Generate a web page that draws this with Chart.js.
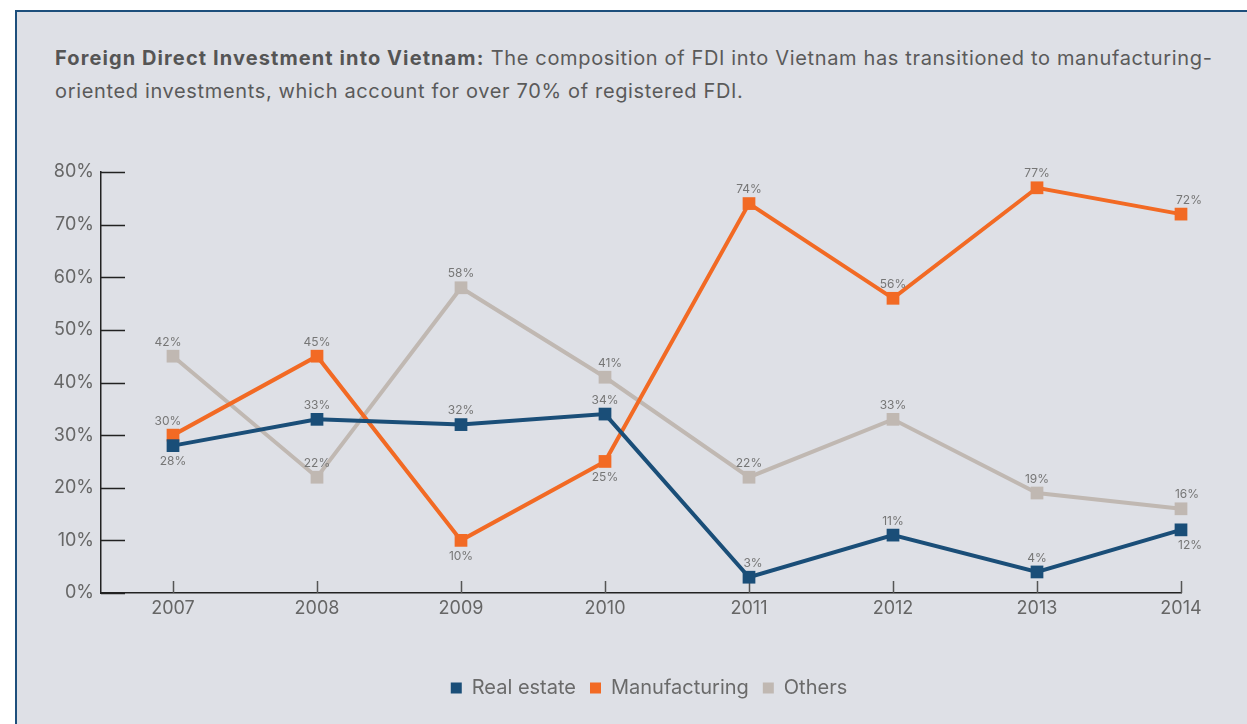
<!DOCTYPE html>
<html>
<head>
<meta charset="utf-8">
<script src="https://cdn.jsdelivr.net/npm/chart.js@4.4.1/dist/chart.umd.min.js"></script>
<style>
  html, body { margin: 0; padding: 0; width: 1247px; height: 724px; overflow: hidden; background: #fff; position: relative; }
  #panel { position: absolute; left: 15px; top: 10px; width: 1240px; height: 720px; background: #dee0e6;
           border-top: 2px solid #1d4f7c; border-left: 2px solid #1d4f7c; }
  #title { position: absolute; left: 55px; top: 42px; font: 20px Inter, sans-serif; color: #5a5a5a; line-height: 33px;
           letter-spacing: 0.65px; white-space: nowrap; }
  #title b { color: #555; font-weight: 700; letter-spacing: 1.1px; }
  #wrap { position: absolute; left: 17px; top: 130px; width: 1264px; height: 594px; }
</style>
</head>
<body>
<div id="panel"></div>
<div id="title"><b>Foreign Direct Investment into Vietnam:</b> The composition of FDI into Vietnam has transitioned to manufacturing-<br>oriented investments, which account for over 70% of registered FDI.</div>
<div id="wrap"><canvas id="fdiChart" width="1264" height="594"></canvas></div>
<script>
// datos
const years = [2007, 2008, 2009, 2010, 2011, 2012, 2013, 2014];
const realEstate = [28, 33, 32, 34, 3, 11, 4, 12];
const manufacturing = [30, 45, 10, 25, 74, 56, 77, 72];
const others = [45, 22, 58, 41, 22, 33, 19, 16];
// etiquetas impresas (2007 Others dice 42% aunque el punto esta cerca de 45%)
const realEstateLabels = ['28%', '33%', '32%', '34%', '3%', '11%', '4%', '12%'];
const manufacturingLabels = ['30%', '45%', '10%', '25%', '74%', '56%', '77%', '72%'];
const othersLabels = ['42%', '22%', '58%', '41%', '22%', '33%', '19%', '16%'];
const yTicks = [0, 10, 20, 30, 40, 50, 60, 70, 80];

const FONT = 'Inter, sans-serif';
const toPoints = vals => vals.map((v, i) => ({ x: years[i], y: v }));

// ticks hacia adentro del area del grafico
const insideTicks = {
  id: 'insideTicks',
  beforeDatasetsDraw(chart) {
    const { ctx, chartArea, scales } = chart;
    ctx.save();
    ctx.lineWidth = 1.5;
    ctx.strokeStyle = '#222';
    ctx.beginPath();
    yTicks.forEach(v => {
      const y = Math.round(scales.y.getPixelForValue(v)) + 0.5;
      ctx.moveTo(chartArea.left, y);
      ctx.lineTo(chartArea.left + 24, y);
    });
    ctx.stroke();
    ctx.strokeStyle = '#555';
    ctx.beginPath();
    years.forEach(v => {
      const x = Math.round(scales.x.getPixelForValue(v)) + 0.5;
      ctx.moveTo(x, chartArea.bottom);
      ctx.lineTo(x, chartArea.bottom - 12);
    });
    ctx.stroke();
    ctx.restore();
  }
};

// etiquetas de valor sobre/bajo cada punto
const pointLabels = {
  id: 'pointLabels',
  afterDatasetsDraw(chart) {
    const ctx = chart.ctx;
    ctx.save();
    ctx.font = '12px ' + FONT;
    ctx.fillStyle = '#767676';
    ctx.textAlign = 'center';
    ctx.textBaseline = 'middle';
    chart.data.datasets.forEach((ds, i) => {
      chart.getDatasetMeta(i).data.forEach((pt, j) => {
        const below = ds.labelSide[j] === 'b';
        ctx.fillText(ds.valueLabels[j], pt.x + (ds.labelDx[j] || 0), pt.y + (below ? 16 : -14));
      });
    });
    ctx.restore();
  }
};

function serie(label, vals, labels, color, side, dx) {
  return {
    label: label,
    data: toPoints(vals),
    valueLabels: labels,
    labelSide: side,
    labelDx: dx,
    borderColor: color,
    backgroundColor: color,
    borderWidth: 4,
    pointStyle: 'rect',
    pointRadius: 9,
    pointHoverRadius: 9,
    pointBorderWidth: 0,
    tension: 0,
    clip: false
  };
}

const ctx = document.getElementById('fdiChart').getContext('2d');
window.fdiChartInstance = new Chart(ctx, {
  type: 'line',
  data: {
    datasets: [
      serie('Real estate', realEstate, realEstateLabels, '#1a4e78',
        ['b', 'a', 'a', 'a', 'a', 'a', 'a', 'b'], [0, 0, 0, 0, 4, 0, 0, 9]),
      serie('Manufacturing', manufacturing, manufacturingLabels, '#f26a24',
        ['a', 'a', 'b', 'b', 'a', 'a', 'a', 'a'], [-5, 0, 0, 0, 0, 0, 0, 8]),
      serie('Others', others, othersLabels, '#c0b8b2',
        ['a', 'a', 'a', 'a', 'a', 'a', 'a', 'a'], [-5, 0, 0, 5, 0, 0, 0, 6])
    ]
  },
  options: {
    responsive: false,
    animation: false,
    layout: { padding: { top: 42, right: 0, left: 0, bottom: 16 } },
    plugins: {
      title: { display: false },
      tooltip: { enabled: false },
      legend: {
        position: 'bottom',
        labels: {
          font: { family: FONT, size: 20 },
          color: '#6a6a6a',
          boxWidth: 11,
          boxHeight: 11,
          padding: 14,
          generateLabels: chart => Chart.defaults.plugins.legend.labels.generateLabels(chart)
            .map(l => Object.assign(l, { lineWidth: 0 }))
        }
      }
    },
    scales: {
      x: {
        type: 'linear',
        min: 2006.5,
        max: 2014,
        afterBuildTicks: s => { s.ticks = years.map(v => ({ value: v })); },
        afterFit: s => { s.height = 71; s.paddingRight = 100; },
        grid: { display: false, drawTicks: false },
        border: { color: '#222', width: 1.5 },
        ticks: { color: '#666', font: { family: FONT, size: 18 }, padding: 5, callback: v => String(v) }
      },
      y: {
        min: 0,
        max: 80,
        afterBuildTicks: s => { s.ticks = yTicks.map(v => ({ value: v })); },
        afterFit: s => { s.width = 84; },
        grid: { display: false, drawTicks: false },
        border: { color: '#222', width: 1.5 },
        ticks: { color: '#666', font: { family: FONT, size: 18 }, padding: 7, callback: v => v + '%' }
      }
    }
  },
  plugins: [insideTicks, pointLabels]
});
</script>
</body>
</html>
